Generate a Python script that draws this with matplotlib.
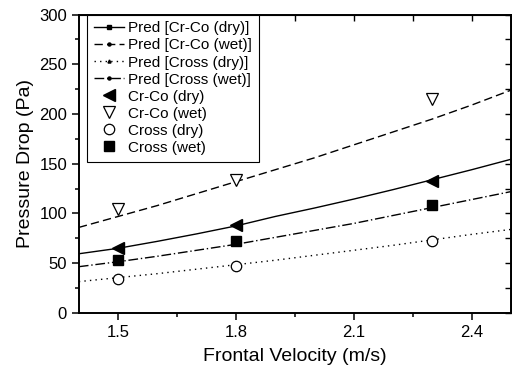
import numpy as np
import matplotlib
matplotlib.use("Agg")
import matplotlib.pyplot as plt
from matplotlib.lines import Line2D
from matplotlib.ticker import MultipleLocator

plt.rcParams["font.family"] = ["Liberation Sans", "DejaVu Sans"]

# measured points
v_meas = [1.5, 1.8, 2.3]
crco_dry = [65, 88, 133]
crco_wet = [105, 134, 215]
cross_dry = [34, 47, 72]
cross_wet = [53, 72, 109]

# predicted curves
v_pred = [1.4, 1.5, 1.6, 1.7, 1.8, 1.9, 2.0, 2.1, 2.2, 2.3, 2.4, 2.5]
pred_crco_dry = [59.5, 65, 72, 79.5, 87.5, 97, 105.5, 114.5, 124, 134, 144, 154.5]
pred_crco_wet = [86, 97, 108, 120, 132, 144, 156, 169, 182, 195, 209, 224]
pred_cross_dry = [31.5, 35.5, 39.5, 44, 48.5, 53, 58, 63, 68, 73.5, 79, 84]
pred_cross_wet = [46.5, 51.5, 57, 63, 69, 76, 83, 90, 98, 106, 114, 122]

fig = plt.figure(figsize=(5.12, 3.73), dpi=100)
ax = fig.add_axes([0.154, 0.161, 0.844, 0.800])

ls_list = ["-", (0, (6, 3)), (0, (1, 3)), (0, (7, 2, 1, 2))]
mk_list = ["s", "o", "^", "o"]
preds = [pred_crco_dry, pred_crco_wet, pred_cross_dry, pred_cross_wet]
names = ["Pred [Cr-Co (dry)]", "Pred [Cr-Co (wet)]", "Pred [Cross (dry)]", "Pred [Cross (wet)]"]
handles = []
for y, ls, mk, nm in zip(preds, ls_list, mk_list, names):
    ax.plot(v_pred, y, color="black", lw=1.0, ls=ls)
    handles.append(Line2D([], [], color="black", lw=1.0, ls=ls, marker=mk, ms=2.2, label=nm))

h1, = ax.plot(v_meas, crco_dry, ls="none", marker="<", ms=8, color="black", label="Cr-Co (dry)")
h2, = ax.plot(v_meas, crco_wet, ls="none", marker="v", ms=8.5, mfc="white", mec="black", mew=0.9, label="Cr-Co (wet)")
h3, = ax.plot(v_meas, cross_dry, ls="none", marker="o", ms=7.5, mfc="white", mec="black", mew=0.9, label="Cross (dry)")
h4, = ax.plot(v_meas, cross_wet, ls="none", marker="s", ms=6.5, color="black", label="Cross (wet)")
handles += [h1, h2, h3, h4]

ax.set_xlim(1.4, 2.5); ax.set_ylim(0, 300)
ax.xaxis.set_minor_locator(MultipleLocator(0.15))
ax.yaxis.set_major_locator(MultipleLocator(50)); ax.yaxis.set_minor_locator(MultipleLocator(25))
ax.set_xticks([1.5, 1.8, 2.1, 2.4]); ax.set_xticklabels(["1.5", "1.8", "2.1", "2.4"])
ax.tick_params(which="both", direction="out", labelsize=12, width=1.1, top=False, right=False)
ax.tick_params(which="major", length=5); ax.tick_params(which="minor", length=3)
for s in ax.spines.values():
    s.set_linewidth(1.4)
# mirrored inward ticks on top and right
sec_x = ax.secondary_xaxis("top"); sec_x.set_xticks([1.5, 1.65, 1.8, 1.95, 2.1, 2.25, 2.4])
sec_x.tick_params(direction="in", length=4, width=1.0, labeltop=False)
sec_y = ax.secondary_yaxis("right"); sec_y.set_yticks(np.arange(0, 301, 25))
sec_y.tick_params(direction="in", length=4, width=1.0, labelright=False)

ax.set_xlabel("Frontal Velocity (m/s)", fontsize=14, labelpad=6)
ax.set_ylabel("Pressure Drop (Pa)", fontsize=14, labelpad=4)

leg = ax.legend(handles=handles, loc="upper left", bbox_to_anchor=(0.0185, 1.0), fontsize=11,
                frameon=True, fancybox=False, edgecolor="black", framealpha=1, handlelength=2.0,
                handletextpad=0.25, labelspacing=0.2, borderpad=0.45, borderaxespad=0)
leg.get_frame().set_linewidth(0.8)

fig.savefig("out.png", dpi=100)
